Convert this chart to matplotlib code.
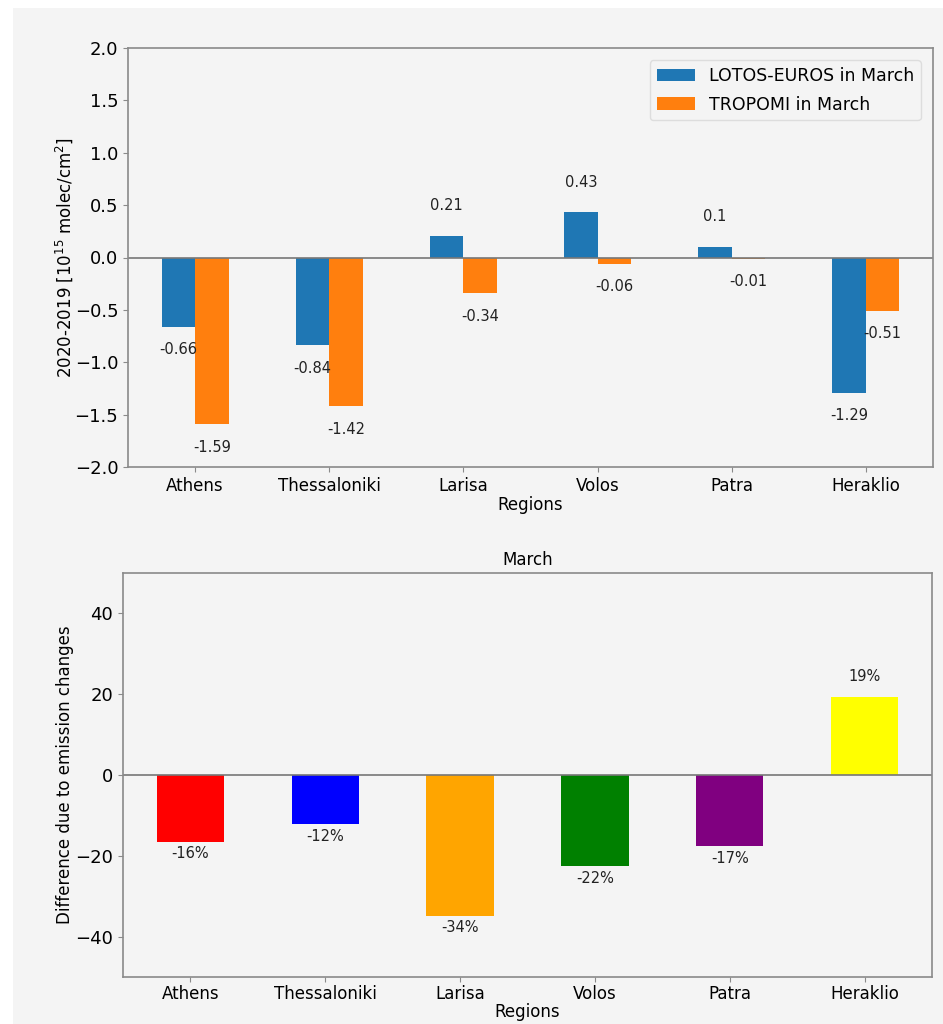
# NO2 column change in March, LOTOS-EUROS vs TROPOMI, and share due to emissions
import numpy as np
import matplotlib.pyplot as plt
from matplotlib.patches import Rectangle

# data
regions = ["Athens", "Thessaloniki", "Larisa", "Volos", "Patra", "Heraklio"]
lotos = [-0.66, -0.84, 0.21, 0.43, 0.1, -1.29]
tropomi = [-1.59, -1.42, -0.34, -0.06, -0.01, -0.51]
emis_diff = [-16.5, -12.2, -34.8, -22.6, -17.6, 19.3]
emis_labels = ["-16%", "-12%", "-34%", "-22%", "-17%", "19%"]
emis_colors = ["red", "blue", "orange", "green", "purple", "yellow"]

bg = "#f4f4f4"
spine_col = "#8a8a8a"

fig = plt.figure(figsize=(9.43, 10.24), dpi=100, facecolor="white")
# gray page with thin white border on the left and top
fig.patches.append(Rectangle((13 / 943, 0), 1, 1 - 8 / 1024, transform=fig.transFigure,
                             facecolor=bg, edgecolor="none", zorder=-10))

x = np.arange(len(regions))
w = 0.25

# top panel: grouped bars
ax1 = fig.add_axes([128 / 943, 1 - 467 / 1024, 805 / 943, 419 / 1024])
ax1.set_facecolor(bg)
ax1.bar(x - w / 2, lotos, w, color="#1f77b4", label="LOTOS-EUROS in March")
ax1.bar(x + w / 2, tropomi, w, color="#ff7f0e", label="TROPOMI in March")
ax1.axhline(0, color="#777777", lw=1.2)
for i in range(len(regions)):
    for xx, v in [(x[i] - w / 2, lotos[i]), (x[i] + w / 2, tropomi[i])]:
        y = v + 0.29 if v > 0 else v - 0.22
        ax1.text(xx, y, str(v), ha="center", va="center", fontsize=10.5, color="#222222")
ax1.set_xlim(-0.5, len(regions) - 0.5)
ax1.set_ylim(-2, 2)
ax1.set_yticks(np.arange(-2, 2.01, 0.5))
ax1.set_xticks(x)
ax1.set_xticklabels(regions)
ax1.tick_params(axis="y", labelsize=13)
ax1.tick_params(axis="x", labelsize=12)
ax1.set_xlabel("Regions", fontsize=12, labelpad=1)
ax1.set_ylabel("2020-2019 [10$^{15}$ molec/cm$^2$]", fontsize=12, labelpad=0)
leg = ax1.legend(loc="upper right", fontsize=12.5, facecolor=bg, framealpha=1,
                 handlelength=2.2, labelspacing=0.6, borderaxespad=0.7)
leg.get_frame().set_edgecolor("#dddddd")

# bottom panel: difference due to emission changes
ax2 = fig.add_axes([123 / 943, 1 - 977 / 1024, 809 / 943, 404 / 1024])
ax2.set_facecolor(bg)
ax2.bar(x, emis_diff, 0.5, color=emis_colors)
ax2.axhline(0, color="#777777", lw=1.2)
for i, v in enumerate(emis_diff):
    y = v + 5 if v > 0 else v - 3
    ax2.text(x[i], y, emis_labels[i], ha="center", va="center", fontsize=10.5, color="#222222")
ax2.set_xlim(-0.5, len(regions) - 0.5)
ax2.set_ylim(-50, 50)
ax2.set_yticks([-40, -20, 0, 20, 40])
ax2.set_xticks(x)
ax2.set_xticklabels(regions)
ax2.tick_params(axis="y", labelsize=13)
ax2.tick_params(axis="x", labelsize=12, pad=2)
ax2.set_xlabel("Regions", fontsize=12, labelpad=0)
ax2.set_ylabel("Difference due to emission changes", fontsize=12, labelpad=1)
ax2.set_title("March", fontsize=12)

for ax in (ax1, ax2):
    for s in ax.spines.values():
        s.set_color(spine_col)
        s.set_linewidth(1.2)
    ax.tick_params(color=spine_col)

fig.savefig("out.png", dpi=100, facecolor=fig.get_facecolor())
